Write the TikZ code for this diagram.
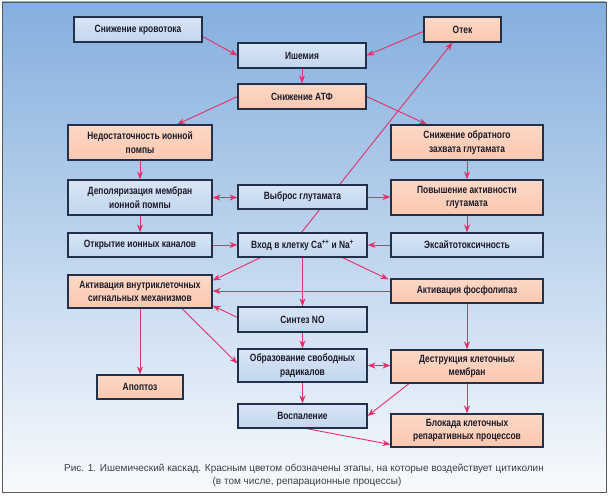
\documentclass[tikz,border=0pt]{standalone}
\usepackage{fontspec}
\setmainfont{Liberation Sans}
\newfontfamily\boxfont{Liberation Sans}[FakeStretch=0.8]
\usetikzlibrary{arrows.meta,calc}
\definecolor{bgtop}{HTML}{84AFDE}
\definecolor{bgbot}{HTML}{F8FAFD}
\definecolor{bluetop}{HTML}{D8E5F5}
\definecolor{bluebot}{HTML}{C3D6EE}
\definecolor{pinktop}{HTML}{FDD8C6}
\definecolor{pinkbot}{HTML}{FAC8B0}
\definecolor{boxline}{HTML}{223049}
\definecolor{arr}{HTML}{E2306A}
\definecolor{txt}{HTML}{1B1B28}
\pgfdeclarelayer{back}
\pgfdeclarelayer{edges}
\pgfsetlayers{back,edges,main}
\begin{document}
\begin{tikzpicture}[x=1pt,y=-1pt,
  box/.style={draw=boxline,line width=1.2pt,inner sep=0pt,align=center,
    font=\boxfont\bfseries\fontsize{10.5}{13.5}\selectfont,text=txt},
  bluebox/.style={box,top color=bluetop,bottom color=bluebot},
  pinkbox/.style={box,top color=pinktop,bottom color=pinkbot},
  wA/.style={minimum width=128pt},
  wB/.style={minimum width=144pt},
  wC/.style={minimum width=152pt},
  hA/.style={minimum height=25pt},
  tip/.tip={Stealth[length=8pt,width=6pt]},
  arrow/.style={draw=arr,line width=0.9pt,-tip},
  darrow/.style={draw=arr,line width=0.9pt,tip-tip},
  caption/.style={font=\fontsize{10}{12}\selectfont,text=txt!85,inner sep=0pt}
]
\useasboundingbox (0,0) rectangle (610,495);
\begin{pgfonlayer}{back}
  \shade[top color=bgtop,bottom color=bgbot] (2,2) rectangle (606,492);
  \draw[gray!70!black,line width=0.8pt] (2,2) rectangle (606,492);
\end{pgfonlayer}

\node[bluebox,wA,hA] (kr) at (138,29.5) {Снижение кровотока};
\node[bluebox,wA,hA] (ish) at (302,55.5) {Ишемия};
\node[pinkbox,wA,hA] (atf) at (302,96.5) {Снижение АТФ};
\node[pinkbox,minimum width=77pt,hA] (otek) at (462.5,29.5) {Отек};
\node[pinkbox,wB,minimum height=35pt] (ned) at (140,142.5) {Недостаточность ионной\\помпы};
\node[pinkbox,wC,minimum height=35pt] (zah) at (467,142.5) {Снижение обратного\\захвата глутамата};
\node[bluebox,wB,minimum height=35pt] (dep) at (140,197.5) {Деполяризация мембран\\ионной помпы};
\node[bluebox,minimum width=129pt,minimum height=24pt] (vyb) at (302.5,197) {Выброс глутамата};
\node[pinkbox,wC,minimum height=35pt] (pov) at (467,197.5) {Повышение активности\\глутамата};
\node[bluebox,wB,minimum height=24pt] (otk) at (140,245) {Открытие ионных каналов};
\node[bluebox,minimum width=129pt,minimum height=24pt] (vh) at (302.5,245) {Вход в клетку Ca\textsuperscript{++} и Na\textsuperscript{+}};
\node[bluebox,wC,minimum height=24pt] (eks) at (467,245) {Эксайтотоксичность};
\node[pinkbox,wB,minimum height=33pt] (akt) at (140,291.5) {Активация внутриклеточных\\сигнальных механизмов};
\node[pinkbox,wC,minimum height=24pt] (fos) at (467,291) {Активация фосфолипаз};
\node[bluebox,minimum width=129pt,hA] (no) at (302.5,319.5) {Синтез NO};
\node[bluebox,minimum width=129pt,minimum height=33pt] (obr) at (302.5,365.5) {Образование свободных\\радикалов};
\node[pinkbox,wC,minimum height=33pt] (des) at (467,366.5) {Деструкция клеточных\\мембран};
\node[pinkbox,minimum width=86pt,minimum height=24pt] (apo) at (140,387) {Апоптоз};
\node[bluebox,minimum width=129pt,minimum height=24pt] (vos) at (302.5,416) {Воспаление};
\node[pinkbox,wC,minimum height=33pt] (blo) at (467,430.5) {Блокада клеточных\\репаративных процессов};

\node[caption] (cap1) at (304,469) {Рис. 1. Ишемический каскад. Красным цветом обозначены этапы, на которые воздействует цитиколин};
\node[caption] (cap2) at (307,482) {(в том числе, репарационные процессы)};

\begin{pgfonlayer}{edges}
  \draw[arrow] ([yshift=-7pt]kr.east) -- (ish.west);
  \draw[arrow] ([yshift=-2pt]otek.west) -- (ish.east);
  \draw[arrow] (ish.south) -- (atf.north);
  \draw[arrow] (atf.west) -- ([xshift=37pt]ned.north);
  \draw[arrow] (atf.east) -- ([xshift=-40pt]zah.north);
  \draw[arrow] (ned.south) -- (dep.north);
  \draw[arrow] (zah.south) -- (pov.north);
  \draw[darrow] (dep.east) -- (dep.east -| vyb.west);
  \draw[arrow] (vyb.east) -- (vyb.east -| pov.west);
  \draw[arrow] (dep.south) -- (otk.north);
  \draw[arrow] (pov.south) -- (eks.north);
  \draw[arrow] (otk.east) -- (vh.west);
  \draw[arrow] (eks.west) -- (vh.east);
  \draw[arrow] ([xshift=-1pt]vh.north) -- ([xshift=-10pt]otek.south);
  \draw[arrow] ([xshift=-42pt]vh.south) -- ([yshift=11pt]akt.east);
  \draw[arrow] ([xshift=40pt]vh.south) -- ([xshift=-2pt,yshift=-1pt]fos.north west);
  \draw[arrow] (vh.south) -- (no.north);
  \draw[arrow] (fos.west) -- (fos.west -| akt.east);
  \draw[arrow] ([yshift=2pt]no.west) -- ([yshift=3pt]akt.south east);
  \draw[arrow] (akt.south) -- (apo.north);
  \draw[arrow] ([xshift=42pt]akt.south) -- ([yshift=2pt]obr.west);
  \draw[arrow] (no.south) -- (obr.north);
  \draw[arrow] (fos.south) -- (des.north);
  \draw[darrow] (obr.east) -- (obr.east -| des.west);
  \draw[arrow] (obr.south) -- (vos.north);
  \draw[arrow] ([xshift=-58pt]des.south) -- (vos.east);
  \draw[arrow] (des.south) -- (blo.north);
  \draw[arrow] ([xshift=4pt]vos.south) -- ([yshift=-14pt]blo.west);
\end{pgfonlayer}
\end{tikzpicture}
\end{document}
